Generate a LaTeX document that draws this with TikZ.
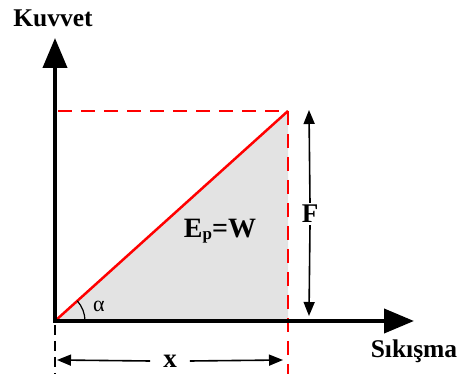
\documentclass[tikz,border=0pt]{standalone}
\usepackage{fontspec}
\setmainfont{Liberation Serif}
\usetikzlibrary{arrows.meta}
\begin{document}
\begin{tikzpicture}[x=1pt,y=-1pt,
  axis/.style={line width=4pt,-{Triangle[length=30pt,width=24pt]}},
  reddash/.style={draw=red,line width=2pt,dash pattern=on 14pt off 9pt},
  dimline/.style={line width=1.6pt,-{Triangle[length=14pt,width=11pt]}},
  lbl/.style={font=\bfseries\fontsize{25.5}{25.5}\selectfont,inner sep=1pt},
  big/.style={font=\bfseries\fontsize{27}{27}\selectfont,inner sep=2pt}]
\useasboundingbox (0,0) rectangle (459,374);
\coordinate (O) at (55,321);
\coordinate (C) at (288,111);
\coordinate (B) at (288,321);
\coordinate (Y) at (55,38);
\coordinate (X) at (414,321);
% shaded area
\fill[gray!22] (O) -- (C) -- (B) -- cycle;
% red dashed
\draw[reddash] (58,111) -- (C);
\draw[reddash] (C) -- (288,374);
% black dashed
\draw[line width=1.6pt,dash pattern=on 10pt off 6pt] (55,325) -- (55,374);
% hypotenuse
\draw[red,line width=2.5pt] (O) -- (C);
% axes
\draw[axis] (55,323) -- (Y);
\draw[axis] (53,321) -- (X);
% angle
\draw[line width=1.2pt] (85,321) arc[start angle=0,end angle=-42,radius=30];
\node[font=\fontsize{22}{22}\selectfont,inner sep=0pt] (alpha) at (99,306) {α};
% labels
\node[lbl] (kuv) at (53,18) {Kuvvet};
\node[lbl] (sik) at (414,351) {Sıkışma};
\node[big] (F) at (310,214) {F};
\node[big,inner sep=3pt] (x) at (170,361) {x};
\node[font=\bfseries\fontsize{28}{28}\selectfont] (ep) at (220,231) {E{\fontsize{17}{17}\selectfont\raisebox{-2pt}{p}}=W};
% dimension arrows
\coordinate (Ft) at (309,110);
\coordinate (Fb) at (309,316);
\draw[dimline] (F.north) -- (Ft);
\draw[dimline] (F.south) -- (Fb);
\coordinate (xl) at (57,360);
\coordinate (xr) at (283,360);
\draw[dimline] (x.west) ++(-10,0) -- (xl);
\draw[dimline] (x.east) ++(10,0) -- (xr);
\end{tikzpicture}
\end{document}
